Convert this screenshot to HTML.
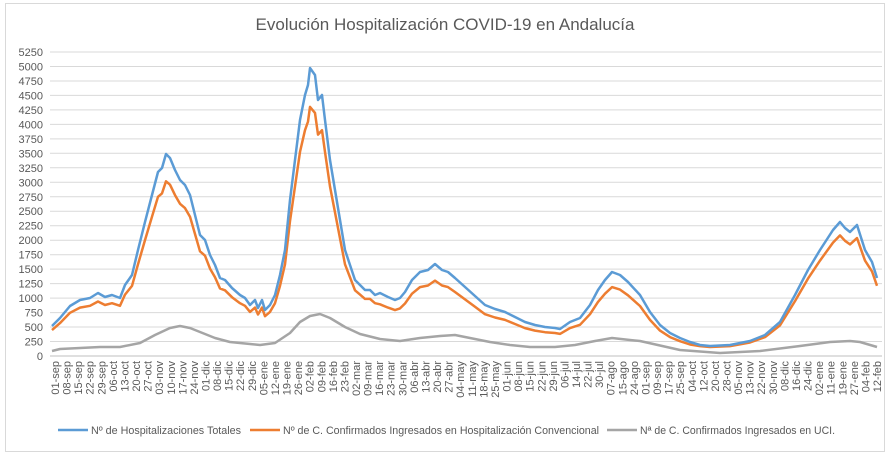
<!DOCTYPE html>
<html><head><meta charset="utf-8"><style>
body{margin:0;background:#fff;}
svg text{font-family:"Liberation Sans",sans-serif;fill:#595959;}
</style></head><body>
<svg width="890" height="458" xmlns="http://www.w3.org/2000/svg">
<rect x="5.5" y="3.5" width="879" height="448" fill="#fff" stroke="#d9d9d9"/>
<text x="445" y="30" font-size="17" text-anchor="middle">Evolución Hospitalización COVID-19 en Andalucía</text>
<g id="grid" stroke="#d9d9d9" stroke-width="1"></g>
<g id="ylab" font-size="11" text-anchor="end"></g>
<g id="xlab" font-size="11"></g>
<polyline id="gray" fill="none" stroke="#a5a5a5" stroke-width="2.5" stroke-linejoin="round" points="52,351 60,349 80,348 100,347 120,347 140,343 155,335 170,328 180,326 190,328 200,332 215,338 230,342 250,344 260,345 275,343 290,333 300,322 310,316 320,314 330,318 345,327 360,334 380,339 400,341 420,338 440,336 455,335 470,338 490,342 510,345 530,347 555,347 575,345 595,341 612,338 630,340 640,341 680,350 720,353 760,351 800,346 830,342 850,341 860,342 877,347"/>
<polyline id="orange" fill="none" stroke="#ed7d31" stroke-width="2.5" stroke-linejoin="round"/>
<polyline id="blue" fill="none" stroke="#5b9bd5" stroke-width="2.5" stroke-linejoin="round"/>
<g font-size="11">
<line x1="58" y1="430" x2="88" y2="430" stroke="#5b9bd5" stroke-width="2.5"/>
<text x="91" y="434" textLength="150" lengthAdjust="spacingAndGlyphs">Nº de Hospitalizaciones Totales</text>
<line x1="250" y1="430" x2="280" y2="430" stroke="#ed7d31" stroke-width="2.5"/>
<text x="283" y="434" textLength="316" lengthAdjust="spacingAndGlyphs">Nº de C. Confirmados Ingresados en Hospitalización Convencional</text>
<line x1="607" y1="430" x2="637" y2="430" stroke="#a5a5a5" stroke-width="2.5"/>
<text x="640" y="434" textLength="195" lengthAdjust="spacingAndGlyphs">Nª de C. Confirmados Ingresados en UCI.</text>
</g>
</svg>
<script>
var ns="http://www.w3.org/2000/svg";
function el(t,a,p,txt){var e=document.createElementNS(ns,t);for(var k in a)e.setAttribute(k,a[k]);if(txt)e.textContent=txt;document.getElementById(p).appendChild(e);}
for(var i=0;i<=21;i++){var y=356-i*304/21;
 if(i>0)el("line",{x1:50,x2:882,y1:y.toFixed(1),y2:y.toFixed(1)},"grid");
 el("text",{x:43,y:(y+4).toFixed(1)},"ylab",String(i*250));}
el("line",{x1:50,x2:882,y1:356,y2:356,stroke:"#bfbfbf"},"grid");
var L="01-sep 08-sep 15-sep 22-sep 29-sep 06-oct 13-oct 20-oct 27-oct 03-nov 10-nov 17-nov 24-nov 01-dic 08-dic 15-dic 22-dic 29-dic 05-ene 12-ene 19-ene 26-ene 02-feb 09-feb 16-feb 23-feb 02-mar 09-mar 16-mar 23-mar 30-mar 06-abr 13-abr 20-abr 27-abr 04-may 11-may 18-may 25-may 01-jun 08-jun 15-jun 22-jun 29-jun 06-jul 14-jul 22-jul 30-jul 07-ago 15-ago 24-ago 01-sep 09-sep 17-sep 25-sep 04-oct 12-oct 20-oct 28-oct 05-nov 13-nov 22-nov 30-nov 08-dic 16-dic 24-dic 02-ene 11-ene 19-ene 27-ene 04-feb 12-feb".split(" ");
L.forEach(function(s,i){var x=55+i*(822/(L.length-1));
 el("text",{x:0,y:0,"text-anchor":"end",transform:"translate("+(x+4).toFixed(1)+",361) rotate(-90)"},"xlab",s);});
var B="52,326 60,318 70,306 80,300 90,298 98,293 105,297 112,295 120,298 125,285 132,275 138,250 145,222 152,195 158,172 162,168 166,154 170,158 175,170 180,180 185,185 190,195 195,215 200,235 205,240 210,255 215,265 220,278 225,280 232,288 240,295 245,298 250,305 255,300 258,308 262,300 265,310 270,305 275,295 280,275 285,250 290,200 295,160 300,120 305,95 308,85 310,68 315,75 318,100 322,95 325,120 330,160 335,190 340,220 345,250 350,265 355,280 360,285 365,290 370,290 375,295 380,293 388,297 395,300 400,298 405,292 412,280 420,272 428,270 435,264 442,270 448,272 455,278 465,287 475,296 485,305 495,309 505,312 515,317 525,322 535,325 545,327 555,328 560,329 570,322 580,318 590,305 598,290 605,280 612,272 620,275 628,282 640,295 650,312 660,325 670,333 680,338 690,342 700,345 710,346 730,345 750,341 765,335 780,322 795,295 808,270 820,250 833,230 840,222 845,228 850,232 857,225 865,250 872,262 877,278";
document.getElementById("blue").setAttribute("points",B);
var O=B.split(" ").map(function(p){var a=p.split(","),x=+a[0];var r=x<380?0.865:(x<700?0.82:0.9);return x+","+(356-(356-a[1])*r).toFixed(1);}).join(" ");
document.getElementById("orange").setAttribute("points",O);
</script>
</body></html>
